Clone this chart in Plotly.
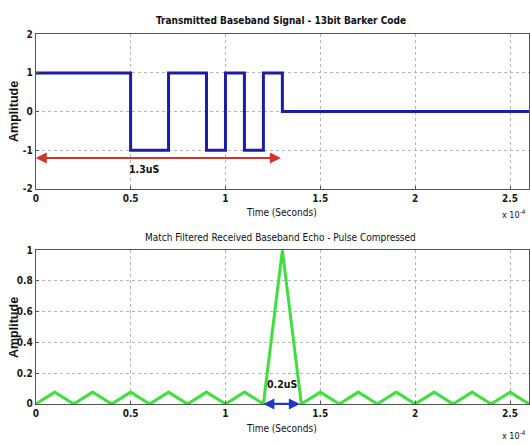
import plotly.graph_objects as go

# Transmitted 13-bit Barker code baseband signal (time in units of 1e-4 s)
tx_time = [0.0, 0.5, 0.7, 0.9, 1.0, 1.1, 1.2, 1.3, 2.6]
tx_amp = [1, -1, 1, -1, 1, -1, 1, 0, 0]

# Matched-filter output (normalised), sampled every 0.1
echo_time = [0.0, 0.1, 0.2, 0.3, 0.4, 0.5, 0.6, 0.7, 0.8, 0.9, 1.0, 1.1, 1.2,
             1.3, 1.4, 1.5, 1.6, 1.7, 1.8, 1.9, 2.0, 2.1, 2.2, 2.3, 2.4, 2.5, 2.6]
echo_amp = [0, 0.077, 0, 0.077, 0, 0.077, 0, 0.077, 0, 0.077, 0, 0.077, 0,
            1.0, 0, 0.077, 0, 0.077, 0, 0.077, 0, 0.077, 0, 0.077, 0, 0.077, 0]

x_ticks = [0, 0.5, 1, 1.5, 2, 2.5]
x_tick_text = ["0", "0.5", "1", "1.5", "2", "2.5"]
top_y_ticks = [-2, -1, 0, 1, 2]
top_y_text = ["-2", "-1", "0", "1", "2"]
bot_y_ticks = [0, 0.2, 0.4, 0.6, 0.8, 1]
bot_y_text = ["0", "0.2", "0.4", "0.6", "0.8", "1"]

pulse_width = [0.0, 1.3]
pulse_label_pos = (0.57, -1.49)
compressed_width = [1.2, 1.4]
compressed_label_pos = (1.3, 0.13)

NARROW = "DejaVu Sans Condensed, Liberation Sans Narrow, Arial Narrow, sans-serif"
W, H = 530, 445


def bold(labels):
    return [f"<b>{s}</b>" for s in labels]


fig = go.Figure()
fig.add_trace(go.Scatter(x=tx_time, y=tx_amp, mode="lines", line_shape="hv",
                         line=dict(color="#1c1ca6", width=3), xaxis="x", yaxis="y",
                         showlegend=False, hoverinfo="skip"))
fig.add_trace(go.Scatter(x=echo_time, y=echo_amp, mode="lines",
                         line=dict(color="#3ee03e", width=3), xaxis="x2", yaxis="y2",
                         showlegend=False, hoverinfo="skip"))

x_dom = [33 / W, 1.0]
top_dom = [1 - 188 / H, 1 - 29 / H]
bot_dom = [1 - 409 / H, 1 - 251 / H]

axis_common = dict(showline=True, linecolor="#555", linewidth=1, mirror=True,
                   showgrid=True, gridcolor="#b5b5b5", griddash="dot", gridwidth=1,
                   zeroline=False, ticks="inside", ticklen=3, tickcolor="#555",
                   tickfont=dict(family=NARROW, size=10, color="#1a1a1a"))

fig.update_layout(
    width=W, height=H, margin=dict(l=0, r=0, t=0, b=0),
    paper_bgcolor="white", plot_bgcolor="white",
    xaxis=dict(domain=x_dom, range=[0, 2.6], anchor="y", tickvals=x_ticks,
               ticktext=bold(x_tick_text), **axis_common),
    yaxis=dict(domain=top_dom, range=[-2, 2], anchor="x", tickvals=top_y_ticks,
               ticktext=bold(top_y_text), **axis_common),
    xaxis2=dict(domain=x_dom, range=[0, 2.6], anchor="y2", tickvals=x_ticks,
                ticktext=bold(x_tick_text), **axis_common),
    yaxis2=dict(domain=bot_dom, range=[0, 1], anchor="x2", tickvals=bot_y_ticks,
                ticktext=bold(bot_y_text), **axis_common),
)

ann = []
# Titles
ann.append(dict(text="<b>Transmitted Baseband Signal - 13bit Barker Code</b>",
                x=280 / W, y=1 - 15 / H, xref="paper", yref="paper", showarrow=False,
                font=dict(family=NARROW, size=10, color="#111"), xanchor="center", yanchor="middle"))
ann.append(dict(text="Match Filtered Received Baseband Echo - Pulse Compressed",
                x=280 / W, y=1 - 238 / H, xref="paper", yref="paper", showarrow=False,
                font=dict(family=NARROW, size=10, color="#111"), xanchor="center", yanchor="middle"))
# Axis titles
for yc in (108, 330):
    ann.append(dict(text="<b>Amplitude</b>", x=11 / W, y=1 - yc / H, xref="paper", yref="paper",
                    showarrow=False, textangle=-90,
                    font=dict(family="Liberation Sans, Arial, sans-serif", size=12.5, color="#111"),
                    xanchor="center", yanchor="middle"))
for yc in (212, 434):
    ann.append(dict(text="Time (Seconds)", x=281 / W, y=1 - yc / H, xref="paper", yref="paper",
                    showarrow=False, font=dict(family=NARROW, size=10, color="#111"),
                    xanchor="center", yanchor="middle"))
for yc in (214, 441):
    ann.append(dict(text="x 10<sup>-4</sup>", x=1.0, y=1 - yc / H, xref="paper", yref="paper",
                    showarrow=False, font=dict(family=NARROW, size=9, color="#111"),
                    xanchor="right", yanchor="middle", xshift=-1))

# Pulse width arrow (transmitted)
ann.append(dict(x=pulse_width[0], y=-1.2, ax=pulse_width[1], ay=-1.2, xref="x", yref="y",
                axref="x", ayref="y", text="", showarrow=True, arrowhead=2, arrowside="end+start",
                arrowsize=1, arrowwidth=2.2, arrowcolor="#d6322e", standoff=0, startstandoff=0))
ann.append(dict(x=pulse_label_pos[0], y=pulse_label_pos[1], xref="x", yref="y", text="<b>1.3uS</b>",
                showarrow=False, font=dict(family=NARROW, size=10.5, color="#111")))
# Compressed pulse width arrow
ann.append(dict(x=compressed_width[0], y=0, ax=compressed_width[1], ay=0, xref="x2", yref="y2",
                axref="x2", ayref="y2", text="", showarrow=True, arrowhead=2, arrowside="end+start",
                arrowsize=1, arrowwidth=2.2, arrowcolor="#2038c8", standoff=0, startstandoff=0))
ann.append(dict(x=compressed_label_pos[0], y=compressed_label_pos[1], xref="x2", yref="y2",
                text="<b>0.2uS</b>", showarrow=False, font=dict(family=NARROW, size=10.5, color="#111")))

fig.update_layout(annotations=ann)
fig.write_html("out.html")
